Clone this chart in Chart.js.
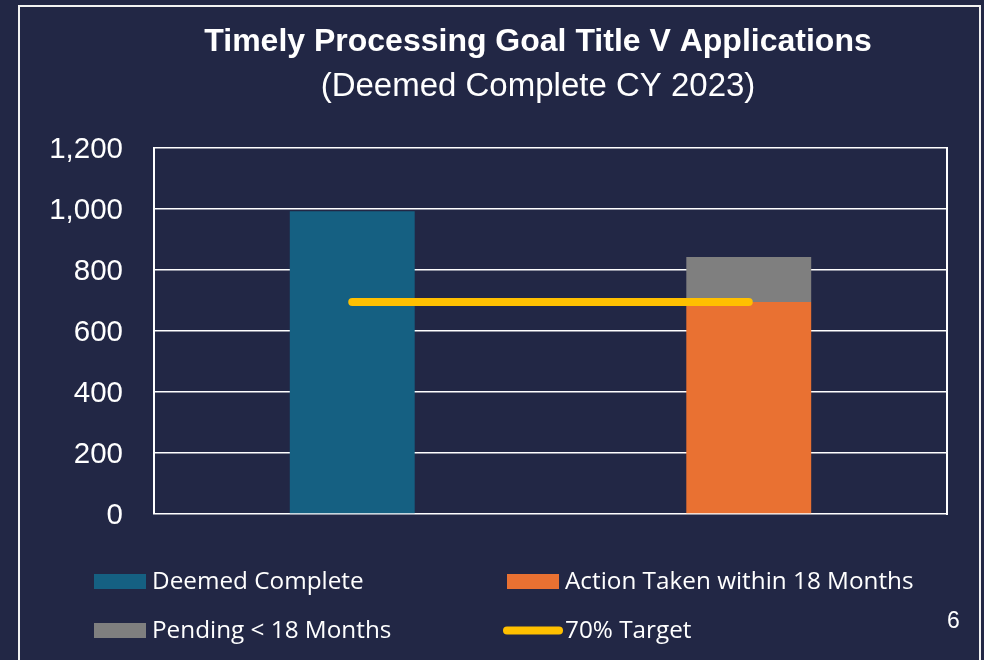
<!DOCTYPE html>
<html><head><meta charset="utf-8">
<script src="https://cdn.jsdelivr.net/npm/chart.js@4.4.1/dist/chart.umd.min.js"></script>
<style>
html,body{margin:0;padding:0;background:#222745;width:984px;height:660px;overflow:hidden;}
#wrap{position:relative;width:984px;height:660px;}
#frame{position:absolute;left:18px;top:5px;width:963px;height:720px;border:2px solid #f2f2f2;box-sizing:border-box;}
#c{position:absolute;left:0;top:0;}
#page{position:absolute;left:947px;top:607px;color:#fff;font:23px "Liberation Sans",Arial,sans-serif;}
</style></head>
<body><div id="wrap"><div id="frame"></div><canvas id="c" width="984" height="660"></canvas><div id="page">6</div></div>
<script>
// ---- data ----
const categories = ['Deemed Complete', 'Action / Pending'];
const deemedComplete = [993, null];
const actionTaken = [null, 695];
const pendingUnder18 = [null, 148];
const target70 = [695, 695];
const yTickValues = [0, 200, 400, 600, 800, 1000, 1200];
const titleText = 'Timely Processing Goal Title V Applications';
const subtitleText = '(Deemed Complete CY 2023)';
const legendLabels = ['Deemed Complete', 'Action Taken within 18 Months', 'Pending < 18 Months', '70% Target'];

// ---- styles ----
const C_BLUE = '#156082', C_ORANGE = '#E97132', C_GRAY = '#7F7F7F', C_YELLOW = '#FFC000';
const WHITE = '#ffffff';

const titlePlugin = {
  id: 'customTitle',
  afterDraw(chart) {
    const ctx = chart.ctx;
    const cx = 538;
    ctx.save();
    ctx.fillStyle = WHITE;
    ctx.textAlign = 'center';
    ctx.textBaseline = 'alphabetic';
    ctx.font = 'bold 32px "Liberation Sans", Arial, sans-serif';
    ctx.fillText(titleText, cx, 51);
    ctx.font = '33px "Liberation Sans", Arial, sans-serif';
    ctx.fillText(subtitleText, cx, 96);
    ctx.restore();
  }
};

const legendPlugin = {
  id: 'customLegend',
  afterDraw(chart) {
    const ctx = chart.ctx;
    const items = [
      {ds: 1, x: 94, y: 581.5, kind: 'rect'},
      {ds: 2, x: 507, y: 581.5, kind: 'rect'},
      {ds: 3, x: 94, y: 630.5, kind: 'rect'},
      {ds: 0, x: 507, y: 630.5, kind: 'line'}
    ];
    ctx.save();
    ctx.font = '24.3px "Open Sans", sans-serif';
    ctx.textBaseline = 'alphabetic';
    ctx.textAlign = 'left';
    items.forEach(it => {
      const d = chart.data.datasets[it.ds];
      if (it.kind === 'rect') {
        ctx.fillStyle = d.backgroundColor;
        ctx.fillRect(it.x, it.y - 7.5, 52, 15);
      } else {
        ctx.strokeStyle = d.borderColor;
        ctx.lineWidth = 8;
        ctx.lineCap = 'round';
        ctx.beginPath();
        ctx.moveTo(it.x, it.y);
        ctx.lineTo(it.x + 52, it.y);
        ctx.stroke();
      }
      ctx.fillStyle = WHITE;
      ctx.fillText(d.label, it.x + 58, it.y + 7.5);
    });
    ctx.restore();
  }
};

new Chart(document.getElementById('c'), {
  data: {
    labels: categories,
    datasets: [
      {type: 'line', label: legendLabels[3], data: target70, borderColor: C_YELLOW, backgroundColor: C_YELLOW,
       borderWidth: 8, borderCapStyle: 'round', pointRadius: 0, fill: false, order: 0, stack: 'target', yAxisID: 'y'},
      {type: 'bar', label: legendLabels[0], data: deemedComplete, backgroundColor: C_BLUE, order: 1,
       barPercentage: 0.315, categoryPercentage: 1, stack: 'bars'},
      {type: 'bar', label: legendLabels[1], data: actionTaken, backgroundColor: C_ORANGE, order: 1,
       barPercentage: 0.315, categoryPercentage: 1, stack: 'bars'},
      {type: 'bar', label: legendLabels[2], data: pendingUnder18, backgroundColor: C_GRAY, order: 1,
       barPercentage: 0.315, categoryPercentage: 1, stack: 'bars'}
    ]
  },
  options: {
    responsive: false,
    animation: false,
    devicePixelRatio: 1,
    layout: {padding: {left: 0, right: 37, top: 148, bottom: 146}},
    plugins: {legend: {display: false}, title: {display: false}, tooltip: {enabled: false}},
    scales: {
      x: {type: 'category', stacked: true, display: false, offset: true, grid: {display: false}},
      y: {
        stacked: true, min: 0, max: 1200,
        afterFit(s) { s.width = 154; },
        afterBuildTicks(s) { s.ticks = yTickValues.map(v => ({value: v})); },
        grid: {color: WHITE, lineWidth: 1.5, drawTicks: false},
        border: {display: true, color: WHITE, width: 2},
        ticks: {color: WHITE, padding: 31, labelOffset: 2, font: {family: '"Liberation Sans", Arial, sans-serif', size: 29.5},
                callback: v => v.toLocaleString('en-US')}
      },
      yR: {
        position: 'right', display: true,
        afterFit(s) { s.width = 0; },
        grid: {display: false, drawTicks: false},
        border: {display: true, color: WHITE, width: 2},
        ticks: {display: false}
      }
    }
  },
  plugins: [titlePlugin, legendPlugin]
});
</script>
</body></html>
